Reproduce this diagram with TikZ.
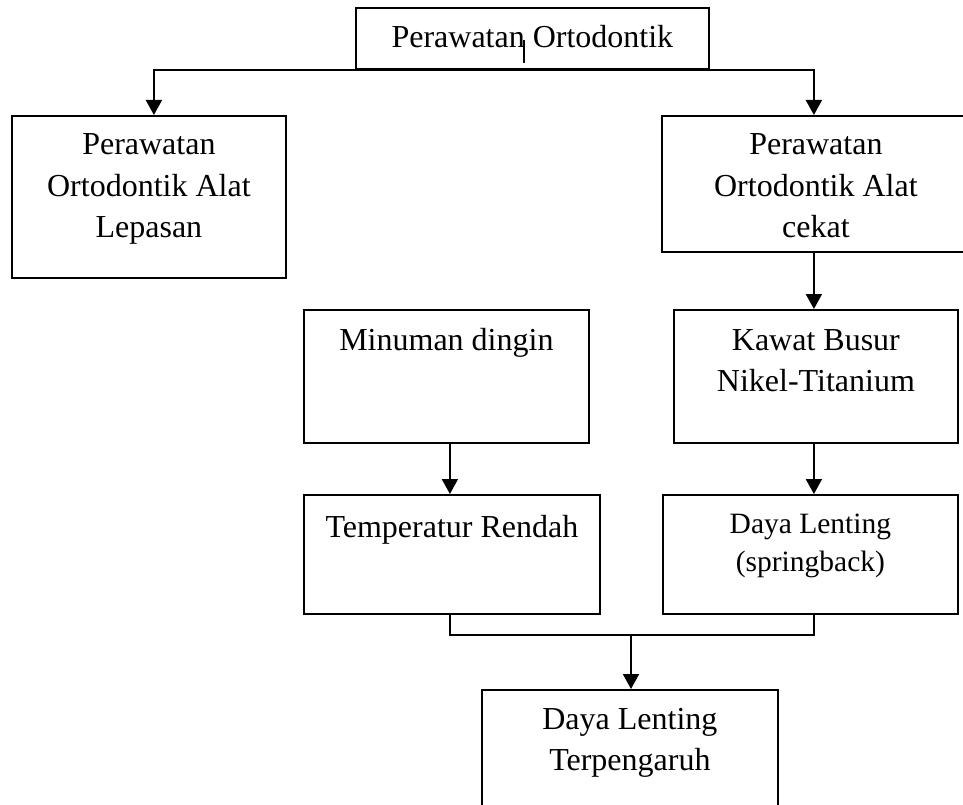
\documentclass[tikz,border=0pt]{standalone}
\usepackage{fontspec}
\setmainfont{Liberation Serif}
\usetikzlibrary{arrows.meta}
\tikzset{
  box/.style={draw, line width=1.8pt, inner sep=0pt, anchor=north west},
  txt/.style={inner sep=0pt, anchor=base, font=\fontsize{32}{41.5}\selectfont},
  smalltxt/.style={inner sep=0pt, anchor=base, font=\fontsize{29.5}{38.5}\selectfont},
  ln/.style={line width=1.9pt},
  arr/.style={line width=1.9pt, -{Triangle[length=15pt,width=16pt]}}
}
\begin{document}
\begin{tikzpicture}[x=1pt,y=-1pt]
\path[use as bounding box, clip] (0,0) rectangle (963,805);
% boxes
\node[box, minimum width=353pt, minimum height=61pt]  (top)    at (355,7)   {};
\node[box, minimum width=274pt, minimum height=162pt] (left)   at (11,115)  {};
\node[box, minimum width=308pt, minimum height=136pt] (right)  at (661,115) {};
\node[box, minimum width=285pt, minimum height=133pt] (minum)  at (303,309) {};
\node[box, minimum width=284pt, minimum height=133pt] (kawat)  at (673,309) {};
\node[box, minimum width=296pt, minimum height=119pt] (temp)   at (303,494) {};
\node[box, minimum width=295pt, minimum height=119pt] (spring) at (662,494) {};
\node[box, minimum width=296pt, minimum height=150pt] (bot)    at (481,689) {};
% texts
\node[txt] (tTop) at ([yshift=-41pt]top.north) {\parbox[t]{350pt}{\centering Perawatan Ortodontik}};
\node[txt] (tLeft) at ([yshift=-40pt]left.north) {\parbox[t]{270pt}{\centering Perawatan\\Ortodontik Alat\\Lepasan}};
\node[txt] (tRight) at ([yshift=-40pt]right.north) {\parbox[t]{300pt}{\centering Perawatan\\Ortodontik Alat\\cekat}};
\node[txt] (tMinum) at ([yshift=-41pt]minum.north) {\parbox[t]{280pt}{\centering Minuman dingin}};
\node[txt] (tKawat) at ([yshift=-41pt]kawat.north) {\parbox[t]{280pt}{\centering Kawat Busur\\Nikel-Titanium}};
\node[txt] (tTemp) at ([yshift=-43pt]temp.north) {\parbox[t]{294pt}{\centering Temperatur Rendah}};
\node[smalltxt] (tSpring) at ([yshift=-39pt]spring.north) {\parbox[t]{290pt}{\centering Daya Lenting\\(springback)}};
\node[txt] (tBot) at ([yshift=-40pt]bot.north) {\parbox[t]{290pt}{\centering Daya Lenting\\Terpengaruh}};
% stray tick in top box
\draw[line width=1.5pt] ([xshift=-8.5pt,yshift=7pt]top.south) -- ++(0,-23);
% connectors
\draw[arr] (top.south) -| ([xshift=5pt]left.north);
\draw[arr] (top.south) -| ([xshift=-2pt]right.north);
\draw[arr] ([xshift=-2pt]right.south) -- ([xshift=-2pt]right.south |- kawat.north);
\draw[arr] ([xshift=3.5pt]minum.south) -- ([xshift=3.5pt]minum.south |- temp.north);
\draw[arr] ([xshift=-2pt]kawat.south) -- ([xshift=-2pt]kawat.south |- spring.north);
\coordinate (j) at (631,635);
\draw[ln] ([xshift=-2pt]temp.south) |- (j) -| ([xshift=3.5pt]spring.south);
\draw[arr] (j) -- (j |- bot.north);
\end{tikzpicture}
\end{document}
